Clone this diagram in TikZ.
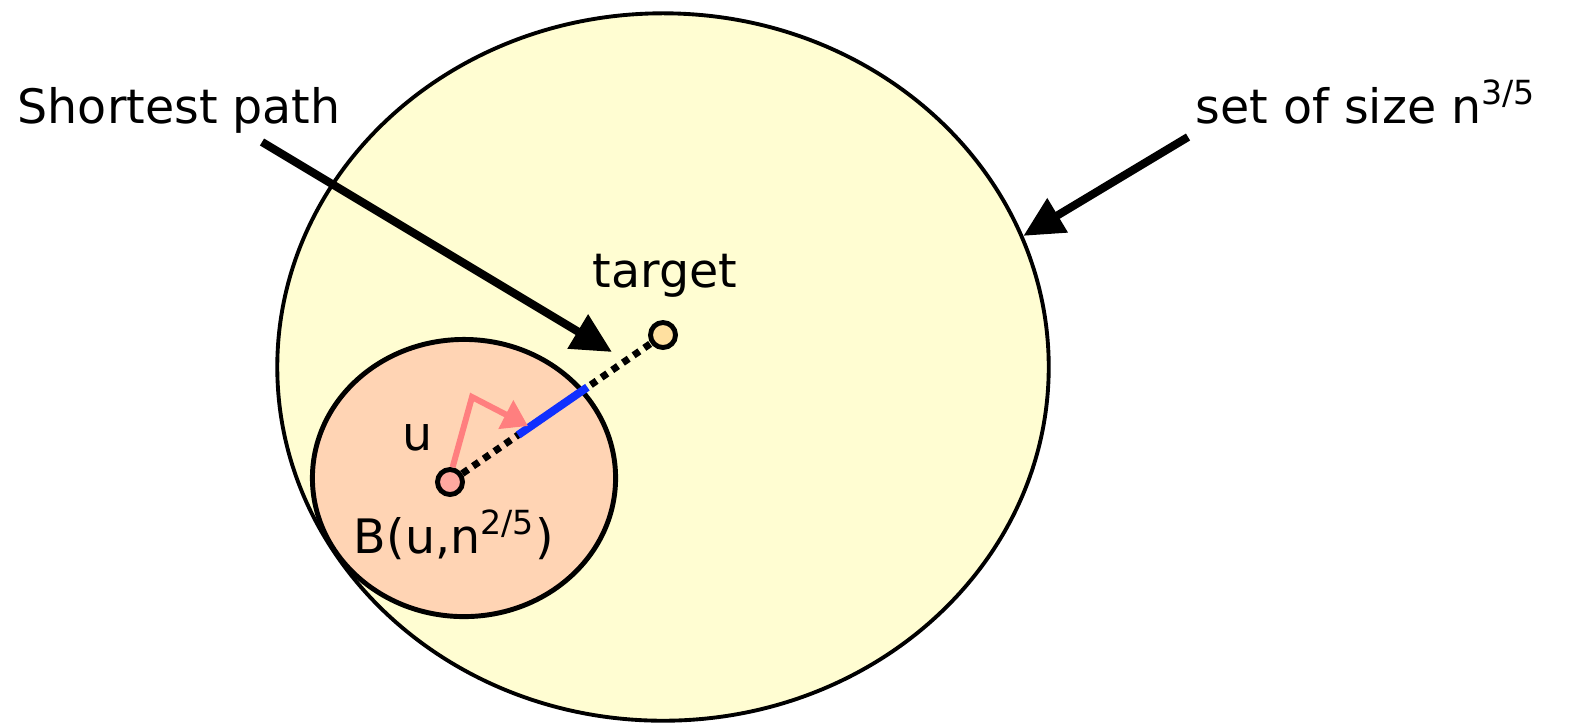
\documentclass[tikz,border=0pt]{standalone}
\usepackage{fontspec}
\setmainfont{DejaVu Sans}
\usetikzlibrary{arrows.meta, shapes.geometric, calc}
\definecolor{cyellow}{HTML}{FFFDD2}
\definecolor{cpeach}{HTML}{FFD4B4}
\definecolor{csalmon}{HTML}{FFA8A0}
\definecolor{corange}{HTML}{FFE0A0}
\definecolor{cpink}{HTML}{FF7F7F}
\definecolor{cblue}{HTML}{1030FF}
\tikzset{
  every picture/.style={font=\fontsize{13.5}{15}\selectfont},
  region/.style={ellipse, draw=black, fill=#1, inner sep=0pt},
  vertex/.style={circle, draw=black, fill=#1, line width=1.4pt, minimum size=0.25cm, inner sep=0pt},
  pointer/.style={-{Triangle[length=0.4cm, width=0.38cm]}, line width=2.3pt},
  lbl/.style={inner sep=0pt},
}

\begin{document}
\begin{tikzpicture}[x=0.01cm, y=-0.01cm,
  dotpath/.style={line width=0.07cm, dash pattern=on 0.07cm off 0.06cm},
  inball/.style={cblue, line width=0.08cm}]
  \useasboundingbox (0,0) rectangle (1574,726);
  % the two sets
  \node[region=cyellow, line width=1.1pt, minimum width=7.71cm, minimum height=7.07cm] (bigset) at (663,367) {};
  \node[region=cpeach, line width=1.4pt, minimum width=3.03cm, minimum height=2.77cm] (ball) at (464,478) {};
  % vertices
  \node[vertex=csalmon] (u) at (450,482) {};
  \node[vertex=corange] (target) at (663,335) {};
  \draw[dotpath] (u) -- (target);
  \draw[inball] ($(u)!0.32!(target)$) -- ($(u)!0.645!(target)$);
  \coordinate (bend) at (472,397);
  \coordinate (tip) at (528,426);
  \draw[cpink, line width=0.06cm, -{Triangle[length=0.25cm, width=0.31cm]}] (u.80) -- (bend) -- (tip);
  % labels
  \node[lbl, anchor=base] (ulbl) at (418,450) {u};
  \node[lbl, anchor=base] (balllbl) at (454,553) {B(u,n\textsuperscript{2/5})};
  \node[lbl, anchor=base] (targetlbl) at (665,287) {target};
  \node[lbl, anchor=base west] (sptext) at (17,123) {Shortest path};
  \node[lbl, anchor=base west] (settext) at (1195,123) {set of size n\textsuperscript{3/5}};
  % pointers
  \coordinate (spfoot) at (262,142);
  \coordinate (sptip) at (612,352);
  \coordinate (setfoot) at (1188,137);
  \draw[pointer] (spfoot) -- (sptip);
  \draw[pointer] (setfoot) -- (bigset.20);
\end{tikzpicture}
\end{document}
